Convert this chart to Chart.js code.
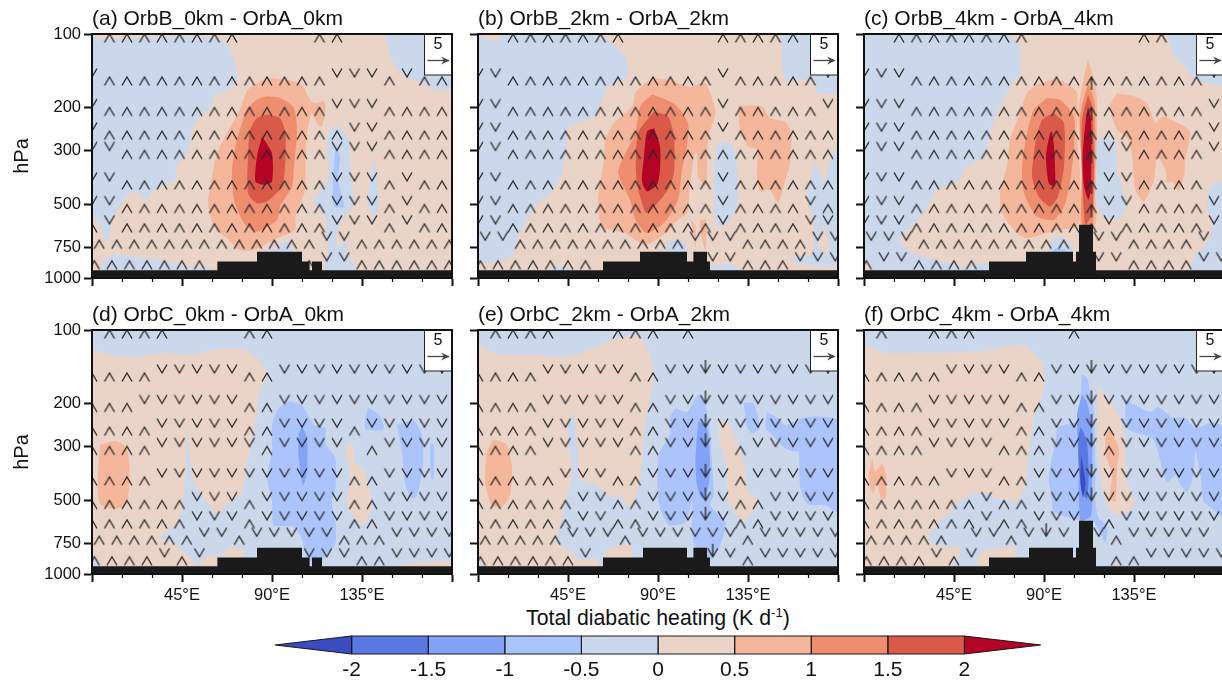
<!DOCTYPE html>
<html><head><meta charset="utf-8">
<script src="https://cdn.jsdelivr.net/npm/chart.js@4/dist/chart.umd.js"></script>
<style>
html,body{margin:0;padding:0;background:#fff;width:1222px;height:682px;overflow:hidden;position:relative}
canvas{position:absolute}
#cbt{position:absolute;left:526px;top:606px;font:21.3px "Liberation Sans",Arial,sans-serif;color:#111;white-space:nowrap}
#cbt sup{font-size:13px;line-height:0}
</style></head><body>
<div id="cbt">Total diabatic heating (K d<sup>-1</sup>)</div>
<script>
// colour levels
const cbBounds=[-2.5,-2,-1.5,-1,-0.5,0,0.5,1,1.5,2,2.5];
const cbColors=['#3b4cc0','#5a78e4','#82a3f8','#abc5fc','#cbd8ec','#ead4c8','#f5b79c','#ef8e6f','#da5a4a','#b40426'];
const cbLabels=[-2,-1.5,-1,-0.5,0,0.5,1,1.5,2];
const B4=0,B3=1,B2=2,B1=3,B0=4,R0=5,R1=6,R2=7,R3=8,R4=9;
const pressureTicks=[100,200,300,500,750,1000];
const lonMajor=[0,45,90,135,180];
const lonMinor=[15,30,60,75,105,120,150,165];
const titles=['(a) OrbB_0km - OrbA_0km','(b) OrbB_2km - OrbA_2km','(c) OrbB_4km - OrbA_4km','(d) OrbC_0km - OrbA_0km','(e) OrbC_2km - OrbA_2km','(f) OrbC_4km - OrbA_4km'];
const fullDomain=[[0,100],[180,100],[180,1000],[0,1000]];

// wind grid
const windLevels=[100,150,200,250,300,400,500,600,700,850,850];
const lonsMain=[0,8.75,17.5,26.25,35,43.75,52.5,61.25,70,78.75,87.5,96.25,105,113.75,122.5,131.25,140,148.75,157.5,166.25,175];
const lonsLow=[3.6,12.35,21.1,29.85,38.6,47.35,56.1,64.85,73.6,82.35,91.1,99.85,108.6,117.35,126.1,134.85,143.6,152.35,161.1,169.85,178.6];
const lonsBase=[1.2,9.95,18.7,27.45,36.2,44.95,53.7];
const windA=['.^^^^^^^^....^^......','v^^^^^^^^^^^^^vvv^v^^','v^^^^^^^^^^^^^vvv^^^^','v^^^^^^^^^^^^^^vv^^^^','vv^^^^^^^^^^^^vvv^^^^','vv^^^^^^^^^^^^vvv^v^^','vv^^^^^^^^^^^^vvv^v^^','^v^^^^^^^^^^^^vvv^v^^','^^^^^^^^^^^^^vv^^^^^^','^^^^^^^','............^vv^^^^^^'];
const windB=['..^^^^^^^.....^^^^^..','vv^^^^^^^^^^^^v^^^^^v','vv^^^^^^^^^^^^v^^^^^v','vv^^^^^^^^^^^^v^^^^^^','vv^^^^^^^^^^^^^^^^^^^','vv^^^^^^^^^^^^v^^^^^^','vv^^^^^^^^^^^^v^^^^v^','vv^^^^^^^^^^^^v^^^^vv','vv^^^^^^^^^^vvv^^^^vv','^^^^^^^','.............vv^^^vvv'];
const windC=['..^^^^^^^^......^^...','vvv^^^^^^^^^^U^^^^^^v','vvv^^^^^^^^^^U^^^^^^v','vvv^^^^^^^^^^U^^^^^^v','vvv^^^^^^^^^^Uvv^^^^v','vvv^^^^^^^^^^Uvv^^^^.','vvv^^^^^^^^^^Uvv^^^^v','vvv^^^^^^^^^^^v^^^^^v','vvv^^^^^^^^^.vv^^^^v.','^vv^^^^','.............vv^^^^vv'];
const windD=['.^^^^....^^..........','^^^^vvvvv^^vvvvvvvvvv','^^^vvvvvv^^vvvvvvvvvv','^^^^vvvvv^^vvvv^vvvvv','^^^^vvvvvv^vvvv.^vvvv','^^^^vvvvvvvvvvv^^vvvv','^^^^^^vvv^vvvvv^^vvvv','^^^^^^vvv^vvvvv^^vvvv','^^^^^^vv^vvvvv^^^vvvv','^^^^v^v','............vvv^^vvvv'];
const windE=['.^^^^...^^^.^........','^^^^vvvvv^^vvDvvvvvvv','^^^^vvvvv^^vvDvvvvvvv','^^^^vvvvv^^vvDvvvvvvv','^^^^vvvvv^^vvD.^vvvvv','^^^^^vvv^^vvvDv^vvvvv','^^^^^^vv^^vvvDv^^vvvv','^^^^^^vv^^vvvDv^^vvvv','^^^^^vvv^vvvvvv^vvvvv','^^^^^^v','.............Dv^vvvvv'];
const windF=['.^..^^^.....^........','^^^^^vvvv^^vvDvvvvvvv','^^^^vvvvv^^vvDvvvvvvv','^^^^vvvvv^^vvD^vvvvvv','^^^^vvvv^^^vvD^vvvvvv','^^^^^vvv^^vvvDvvvvvvv','^^^^^^^v^^vvvDvvvvvvv','^^^^^^^v^^vvv.^vvvvvv','^^^^^.vv^vDv.v^vvvvv.','^^^^v^v','..............^^vvvvv'];

// terrain
const terrainA=[[0,1000],[0,930],[62.7,930],[62.7,855],[82.5,855],[82.5,780],[105,780],[105,855],[108.8,855],[108.8,930],[110,930],[110,855],[115,855],[115,930],[180,930],[180,1000]];
const terrainB=[[0,1000],[0,930],[62.5,930],[62.5,855],[81,855],[81,780],[104.5,780],[104.5,855],[107.7,855],[107.7,780],[114.5,780],[114.5,855],[116,855],[116,930],[180,930],[180,1000]];
const terrainC=[[0,1000],[0,930],[62.5,930],[62.5,855],[81,855],[81,780],[104.5,780],[104.5,855],[106,855],[106,780],[107.5,780],[107.5,605],[114.5,605],[114.5,780],[116,780],[116,930],[180,930],[180,1000]];
const terrainE=[[0,1000],[0,930],[62.5,930],[62.5,855],[82.5,855],[82.5,780],[104.5,780],[104.5,855],[107.7,855],[107.7,780],[114.5,780],[114.5,855],[116,855],[116,930],[180,930],[180,1000]];
const terrainF=[[0,1000],[0,930],[62.5,930],[62.5,855],[82.5,855],[82.5,780],[104.5,780],[104.5,855],[106,855],[106,780],[107.5,780],[107.5,605],[114.5,605],[114.5,780],[116,780],[116,930],[180,930],[180,1000]];

// panel a contours [lon, hPa]
const a_tan=[[0,100],[146,100],[149,123],[156,149],[164,157],[171,169],[180,172],[180,1000],[0,1000],[0,560],[4,616],[6.7,708],[9,676],[10,578],[16.7,470],[21.7,441],[27.5,478],[31,435],[41.7,396],[41.7,349],[46.7,317],[49,289],[50,247],[54,218],[60,198],[61,180],[66,172],[72.5,154],[72.5,143],[69,116],[64,105],[54,103],[21,104],[4,105]];
const a_b1=[[4,930],[6,844],[12.5,800],[21,818],[34,844],[47.5,900],[57.5,900],[61,930]];
const a_b2=[[122.5,236],[127.5,263],[129,317],[130,422],[131,494],[127.5,543],[122.5,635],[123,744],[127.5,698],[127.5,793],[132.5,929],[116.7,929],[118,768],[117.5,655],[116.7,560],[111,494],[114,435],[118,396],[117.5,308],[118,255]];
const a_b3=[[141,327],[142.5,396],[143,509],[141,560],[138,509],[139,383]];
const a_b4=[[82.5,780],[92.5,753],[96,698],[101,780]];
const a_m1=[[121.7,289],[124,317],[123,396],[125,463],[126,509],[121,509],[120.5,396]];
const a_r1=[[87.5,151],[97.5,154],[105,161],[108,180],[111,192],[116,189],[116.7,201],[115,239],[112.5,232],[110,211],[107.5,255],[106.7,349],[106.7,435],[101.7,560],[101.7,635],[92.5,687],[81,768],[74,768],[67.5,687],[61,616],[58,494],[61,349],[62.5,308],[67.5,255],[74,204],[78,169]];
const a_r2=[[87.5,180],[94,183],[101,201],[102.5,255],[101,349],[100,422],[94,509],[92.5,578],[82.5,645],[76,596],[71,478],[70,360],[72.5,271],[77.5,204],[82.5,186]];
const a_r3=[[87.5,214],[94,221],[96.7,255],[96.7,327],[95,422],[87.5,486],[82.5,494],[78,449],[78,317],[79,247],[82.5,221]];
const a_r4=[[85,263],[90,308],[90,402],[86,415],[81.7,402],[82.5,317]];

// panel b
const b_tan0=[[1,100],[3,104],[10,105],[12,100]];
const b_tan=[[60,100],[150,100],[152,123],[153.7,154],[167,154],[170,174],[180,180],[180,1000],[0,1000],[0,855],[2,844],[3.7,872],[15,830],[18.7,768],[19.5,698],[24.5,578],[29.5,494],[36,449],[42,371],[44.5,289],[45,243],[58,218],[62,186],[65,164],[75,149],[73,123],[67,109]];
const b_h1=[[121,276],[127,284],[129.5,349],[129.5,509],[125,596],[120,616],[118,543],[118,371],[118.7,298]];
const b_h2=[[180,280],[175,349],[173,402],[168.7,338],[164.5,478],[168,578],[167,793],[158,818],[158.7,872],[180,872]];
const b_t2=[[170,744],[173,596],[175,698],[175,818]];
const b_h3=[[93.7,780],[95,708],[102,698],[105,780]];
const b_h4=[[116,930],[116,900],[125,872],[132,930]];
const b_h5=[[35,930],[40,900],[48.7,930]];
const b_r1=[[87,151],[95,154],[102,161],[107,164],[113.7,159],[116,174],[118.7,208],[115,271],[114.5,371],[113.7,422],[110,383],[109.5,308],[108,317],[106,422],[104.5,543],[100,578],[93.7,655],[83.7,733],[73.7,655],[62,616],[60,478],[63,327],[63.7,271],[68,232],[77,198],[78.7,174]];
const b_s1=[[106,570],[108.7,616],[108.7,780],[108,655]];
const b_s2=[[111,578],[114,578],[113.7,768],[111,635]];
const b_r2=[[87,177],[92,183],[98.7,195],[105,232],[104.5,289],[102,360],[100,478],[93.7,587],[84.5,655],[78.7,578],[76,478],[70,371],[73.7,308],[78.7,255],[81,198]];
const b_r3=[[88,208],[95,218],[98,263],[98,371],[95,435],[84.5,543],[81,463],[79,371],[80,255]];
const b_r4=[[88,243],[91,289],[91,360],[89.5,415],[84.5,442],[82,402],[83,317],[84.5,251]];
const b_e1=[[130,197],[142,198],[146,221],[153.7,229],[156.7,255],[156,338],[153.7,396],[150,494],[146,435],[141,442],[139.5,383],[139.5,298],[135,289],[131,247]];

// panel c
const c_tan=[[71.5,100],[150,100],[155,123],[160,136],[165.7,154],[175,161],[180,165],[180,396],[173,422],[171.5,509],[174,616],[171.5,721],[165,818],[163,929],[163,1000],[62,1000],[62,872],[50,900],[43,872],[25,793],[18,698],[30,543],[36.5,435],[48,396],[50,360],[60,317],[63,255],[66.5,211],[73,164],[78,145],[77,110]];
const c_tan2=[[0,844],[3,872],[4,930],[0,930]];
const c_h1=[[122,259],[125.7,289],[126.5,371],[131.5,509],[126.5,578],[120,560],[115.7,478],[116.5,371],[115.7,280]];
const c_h2=[[91.5,780],[95,687],[100,687],[105.7,780]];
const c_h3=[[94,780],[95.7,753],[100,768],[101.5,780]];
const c_r1=[[86.5,161],[95,154],[101.5,159],[106.5,174],[106.5,255],[108,371],[108,509],[106.5,616],[96.5,635],[81.5,687],[76.5,655],[69,543],[68,449],[71.5,349],[73,271],[78,211],[81.5,174]];
const c_t1=[[112,127],[115,154],[116.5,186],[116.5,255],[115.7,478],[115.7,605],[108,605],[109,349],[107,218],[109,164]];
const c_r2=[[91.5,183],[98,186],[105,218],[105,289],[103,408],[100,509],[95,578],[86.5,560],[80,449],[79,349],[81.5,255],[85,204]];
const c_t2=[[112,159],[115,186],[115.7,255],[115,509],[114,605],[109,605],[109,371],[108,218]];
const c_r3=[[95,211],[100,232],[100,349],[97,463],[93,509],[87.3,463],[84,383],[85.7,280],[89,225]];
const c_t3=[[112,177],[114,198],[115,349],[114,543],[110.7,605],[109,371],[109,225]];
const c_r4=[[94,251],[95,289],[95.7,396],[95,422],[92.3,408],[91,317],[93,255]];
const c_t4=[[112,198],[113.5,225],[113.5,422],[112.3,478],[110,422],[109.3,317],[110.7,232]];
const c_e1=[[126.5,175],[135,180],[141.5,192],[145.7,232],[149,218],[155.7,229],[163,251],[160.7,327],[160,383],[157.3,442],[154,402],[151.5,408],[150.7,360],[146.5,317],[145,396],[140,486],[135.7,435],[134,317],[132.3,271],[126.5,247],[123,198]];

// panel d
const d_tan=[[0,119],[9,126],[21,129],[36,124],[49,127],[62.5,120],[74,119],[81.7,129],[87.5,151],[83.3,184],[82.5,217],[79,306],[76.7,381],[75,460],[67.5,515],[62.5,567],[57.5,506],[52.5,446],[50,393],[48,278],[47.5,255],[46.7,393],[45.8,476],[43.3,612],[34,707],[41,750],[47.5,838],[52.5,925],[52,1000],[3,1000],[4,925],[1.7,838],[0,815]];
const d_t2=[[52.5,925],[56,866],[61.7,828],[62.7,855],[62.7,925]];
const d_t3=[[64,855],[69,775],[76,800],[75,855]];
const d_t4=[[152.5,1000],[152.5,935],[159,905],[180,890],[180,1000]];
const d_t5=[[129,287],[131,301],[131.7,353],[135.8,369],[138,433],[140,540],[135,632],[129,556],[127.5,491],[129,393],[126.7,306]];
const d_r1=[[4,296],[11.7,285],[17.5,306],[18.8,420],[16.7,523],[10.8,540],[4,515],[2.8,420]];
const d_b1=[[99,196],[105,204],[111,245],[116.7,253],[116.7,292],[121.7,335],[121.7,446],[120,506],[121.7,612],[121.7,750],[116.7,838],[114,895],[107.5,866],[105,716],[100.8,640],[90.8,630],[90,506],[87.5,404],[90,315],[90,245],[93.3,209]];
const d_b2=[[105,247],[107.5,278],[107.5,381],[105.5,433],[103.3,335],[103.3,270]];
const d_b3=[[138,208],[144,224],[145.8,255],[136.7,255],[136.7,230]];
const d_b4=[[152.5,245],[160.8,235],[165,270],[165.5,358],[162.5,476],[160,491],[156.7,433],[155,315]];
const d_b5=[[169,292],[171,296],[170.8,406],[169.5,406]];

// panel e
const e_tan=[[0,114],[10,126],[27,126],[43.7,129],[57,120],[67,110],[80,105],[85.3,122],[87.8,157],[84.5,217],[82,325],[81,406],[77.8,515],[75.3,531],[71,476],[67,483],[58.7,433],[51,404],[49.5,287],[47.8,217],[44.5,253],[47,393],[42.8,540],[40.3,673],[38.7,742],[47,815],[51,880],[59.5,866],[60.3,925],[60,1000],[3,1000],[2.8,925],[0,866]];
const e_t2=[[62.5,866],[65.3,787],[76,757],[77,855]];
const e_r1=[[7.8,280],[14.5,296],[17,369],[16,476],[12,533],[7,523],[3.7,433],[4.5,315]];
const e_t3=[[120.3,237],[125.3,241],[132,325],[135.3,460],[140.3,506],[132.8,612],[127,538],[124.5,476],[124.5,367],[121,296]];
const e_b1=[[98.7,209],[104.5,217],[110.3,184],[114.5,214],[117,346],[117.8,476],[116,523],[123.7,612],[122.8,695],[117,866],[108.7,775],[107,652],[107,506],[103.7,612],[95.3,630],[90.3,506],[90.3,325],[96,268],[96,230]];
const e_b2=[[110.3,235],[114.5,253],[116,335],[115.3,433],[112,491],[109.5,433],[108.7,346],[109.5,268]];
const e_b3=[[132.8,198],[137.8,200],[141,253],[137,265],[134.5,250]];
const e_b4=[[144.5,217],[150.3,230],[153.7,245],[162,230],[170.3,226],[180,235],[180,556],[173.7,523],[164.5,515],[161,433],[160.3,315],[157.8,315],[153.7,306],[147,268],[143.7,253]];

// panel f
const f_tan=[[0,115],[10,124],[26.5,124],[43,124],[60,122],[75,115],[81.5,117],[88,134],[90.7,162],[85,230],[82,346],[80.7,433],[76.5,500],[66.5,491],[60,460],[50,491],[43,556],[35,652],[32,719],[36.5,764],[48,778],[47.3,855],[43,925],[43,1000],[0,1000]];
const f_t2=[[56.5,866],[60,800],[75.7,775],[75.7,860],[62.5,860],[62.5,925],[56.5,925]];
const f_r1=[[4,335],[5.7,381],[9,353],[11,393],[10.7,491],[8.5,491],[6.5,420],[4.5,470],[2.3,404]];
const f_t3=[[117.3,169],[122.3,196],[126.5,217],[130.7,278],[131.5,420],[135.7,506],[132.3,556],[124.8,567],[120.7,506],[117.3,346],[116.5,217]];
const f_r2=[[123,250],[127.3,306],[126.5,369],[125.7,506],[123,491],[124,393],[121,325],[120.7,278]];
const f_t4=[[124,925],[125.7,905],[129,925]];
const f_b1=[[109,152],[111.5,157],[114.8,209],[115.7,346],[115.7,506],[117.3,592],[121.5,630],[120.7,742],[115,612],[107.5,602],[94.8,556],[94,491],[92.3,404],[95.7,287],[97.3,250],[106.5,235]];
const f_b2=[[109,184],[111.5,198],[114,253],[114,476],[113.5,578],[108.2,605],[107.3,346],[106.5,224]];
const f_b3=[[108.5,250],[111.5,287],[112.3,393],[111.5,491],[109,460],[107.3,346],[107.3,268]];
const f_b4=[[108.5,325],[110.7,420],[109.5,486],[108.2,420]];
const f_b5=[[130.7,193],[143,217],[147.3,207],[154,228],[160,228],[165.7,253],[168.2,250],[173.2,240],[180,250],[180,590],[174,538],[169.8,506],[168.2,393],[165.7,315],[164.8,393],[161.5,460],[158,428],[155.7,393],[151.5,420],[146.5,306],[144,278],[131.5,253]];

const layers=[
 [[a_tan,R0],[a_b1,B0],[a_b2,B0],[a_b3,B0],[a_b4,B0],[a_m1,B1],[a_r1,R1],[a_r2,R2],[a_r3,R3],[a_r4,R4]],
 [[b_tan0,R0],[b_tan,R0],[b_h1,B0],[b_h2,B0],[b_t2,R0],[b_h3,B0],[b_h4,B0],[b_h5,B0],[b_r1,R1],[b_s1,R1],[b_s2,R1],[b_e1,R1],[b_r2,R2],[b_r3,R3],[b_r4,R4]],
 [[c_tan,R0],[c_tan2,R0],[c_h1,B0],[c_h2,B0],[c_h3,B1],[c_r1,R1],[c_t1,R1],[c_e1,R1],[c_r2,R2],[c_t2,R2],[c_r3,R3],[c_t3,R3],[c_r4,R4],[c_t4,R4]],
 [[d_tan,R0],[d_t2,R0],[d_t3,R0],[d_t4,R0],[d_t5,R0],[d_r1,R1],[d_b1,B1],[d_b2,B2],[d_b3,B1],[d_b4,B1],[d_b5,B1]],
 [[e_tan,R0],[e_t2,R0],[e_t3,R0],[e_r1,R1],[e_b1,B1],[e_b2,B2],[e_b3,B1],[e_b4,B1]],
 [[f_tan,R0],[f_t2,R0],[f_t3,R0],[f_t4,R0],[f_r1,R1],[f_r2,R1],[f_b1,B1],[f_b2,B2],[f_b3,B3],[f_b4,B4],[f_b5,B1]]
];
const terrains=[terrainA,terrainB,terrainC,terrainA,terrainE,terrainF];
const winds=[windA,windB,windC,windD,windE,windF];
const rowLons=[lonsMain,lonsMain,lonsMain,lonsMain,lonsMain,lonsMain,lonsMain,lonsMain,lonsLow,lonsBase,lonsLow];

const FONT='"Liberation Sans", Arial, sans-serif', INK='#111';

function sprite(up,shaft){
  const c=document.createElement('canvas');c.width=14;c.height=64;
  const g=c.getContext('2d');g.strokeStyle='#2a2a2a';g.lineWidth=1.35;
  const s=up?1:-1,cx=7,cy=32;
  g.beginPath();g.moveTo(cx-5,cy+s*8.5);g.lineTo(cx,cy);g.lineTo(cx+5,cy+s*8.5);
  if(shaft){g.moveTo(cx,cy);g.lineTo(cx,cy+s*13);}
  g.stroke();return c;
}
const SPR={'^':sprite(true,false),'v':sprite(false,false),'U':sprite(true,true),'D':sprite(false,true)};

function poly(pts,color,extra){
  return Object.assign({type:'scatter',showLine:true,data:pts.concat([pts[0]]).map(p=>({x:p[0],y:p[1]})),
    fill:'shape',backgroundColor:color,borderColor:color,borderWidth:0,pointRadius:0,tension:0},extra||{});
}
function windSet(rows,ch){
  const pts=[];
  rows.forEach((r,i)=>{for(let k=0;k<r.length;k++) if(r[k]===ch) pts.push({x:rowLons[i][k],y:windLevels[i]});});
  return {type:'scatter',showLine:false,data:pts,pointStyle:SPR[ch],pointRadius:7,pointHoverRadius:7};
}
const keyBox={id:'keyBox',afterDatasetsDraw(ch){
  const a=ch.chartArea,g=ch.ctx,R=a.right,T=a.top;
  g.save();g.fillStyle='#fff';g.strokeStyle='#222';g.lineWidth=1;
  g.fillRect(R-27.5,T,27.5,41);g.strokeRect(R-27.5,T,27.5,41);
  g.fillStyle=INK;g.font='16px '+FONT;g.textAlign='center';g.textBaseline='middle';
  g.fillText('5',R-14,T+10.5);
  g.strokeStyle='#444';g.lineWidth=1.3;g.beginPath();g.moveTo(R-24.5,T+26.5);g.lineTo(R-3,T+26.5);g.stroke();
  g.fillStyle='#444';g.beginPath();g.moveTo(R-2.5,T+26.5);g.lineTo(R-11,T+22.5);g.lineTo(R-8,T+26.5);g.lineTo(R-11,T+30.5);g.closePath();g.fill();
  g.restore();
}};

function makePanel(i){
  const cv=document.createElement('canvas');
  const col=i%3,row=i<3?0:1;
  cv.width=460;cv.height=320;
  cv.style.left=(col===0?0:col===1?386:772)+'px';
  cv.style.top=(row===0?0:296)+'px';
  document.body.appendChild(cv);
  const ds=[poly(fullDomain,cbColors[B0])];
  layers[i].forEach(l=>ds.push(poly(l[0],cbColors[l[1]],{tension:0.22})));
  ['^','v','U','D'].forEach(c=>ds.push(windSet(winds[i],c)));
  ds.push(poly(terrains[i],'#1a1a1a'));
  ds.reverse();
  const bottom=row===1, left=col===0;
  new Chart(cv,{data:{datasets:ds},plugins:[keyBox],options:{
    responsive:false,animation:false,events:[],
    layout:{padding:0},
    plugins:{legend:{display:false},tooltip:{enabled:false},title:{display:false}},
    scales:{
      x:{type:'linear',position:'bottom',min:0,max:180,weight:2,
        afterFit(s){s.height=42;},
        afterBuildTicks(s){s.ticks=lonMajor.map(v=>({value:v}));},
        border:{color:INK,width:2,z:1},
        grid:{drawOnChartArea:false,tickLength:8,tickColor:INK,tickWidth:2,z:1},
        ticks:{z:1,autoSkip:false,maxRotation:0,padding:4,color:INK,font:{family:FONT,size:16.5},
          callback(v){return (bottom&&v>0&&v<180)?v+'°E':'';}}},
      xm:{type:'linear',position:'bottom',min:0,max:180,weight:1,
        afterFit(s){s.height=0;},
        afterBuildTicks(s){s.ticks=lonMinor.map(v=>({value:v}));},
        border:{display:false},
        grid:{drawOnChartArea:false,tickLength:4,tickColor:INK,tickWidth:1.2,z:1},
        ticks:{z:1,autoSkip:false,maxRotation:0,color:'rgba(0,0,0,0)',font:{size:1},callback(){return '';}}},
      xt:{type:'linear',position:'top',min:0,max:180,
        afterFit(s){s.height=34;},
        border:{color:INK,width:2,z:1},
        grid:{display:false},
        ticks:{display:false},
        title:{display:true,text:titles[i],align:'start',color:INK,padding:{top:7,bottom:0},font:{family:FONT,size:21}}},
      y:{type:'logarithmic',position:'left',min:100,max:1000,reverse:true,
        afterFit(s){s.width=92;},
        afterBuildTicks(s){s.ticks=pressureTicks.map(v=>({value:v}));},
        border:{color:INK,width:2,z:1},
        grid:{drawOnChartArea:false,tickLength:8,tickColor:INK,tickWidth:2,z:1},
        title:{display:left,text:'hPa',color:INK,padding:{top:10},font:{family:FONT,size:20}},
        ticks:{z:1,autoSkip:false,padding:3,color:INK,font:{family:FONT,size:16.5},
          callback(v){return left?String(v):'';}}},
      yr:{type:'linear',position:'right',min:0,max:1,
        afterFit(s){s.width=8;},
        border:{color:INK,width:2,z:1},
        grid:{display:false},ticks:{display:false}}
    }}});
}
for(let i=0;i<6;i++) makePanel(i);

// colour bar
(function(){
  const cv=document.createElement('canvas');cv.width=866;cv.height=62;
  cv.style.left='225px';cv.style.top='620px';document.body.appendChild(cv);
  const ds=[];
  for(let i=0;i<cbColors.length;i++){
    const a=cbBounds[i],b=cbBounds[i+1];
    const pts=i===0?[[a,0.5],[b,0],[b,1]]:i===cbColors.length-1?[[a,0],[b,0.5],[a,1]]:[[a,0],[b,0],[b,1],[a,1]];
    ds.push(poly(pts,cbColors[i],{borderColor:'#1a1a1a',borderWidth:1.2,borderJoinStyle:'bevel',clip:false}));
  }
  new Chart(cv,{data:{datasets:ds},options:{
    responsive:false,animation:false,events:[],
    layout:{padding:{left:50,right:50,top:16,bottom:0}},
    plugins:{legend:{display:false},tooltip:{enabled:false}},
    scales:{
      x:{type:'linear',min:-2.5,max:2.5,
        afterFit(s){s.height=28;},
        afterBuildTicks(s){s.ticks=cbLabels.map(v=>({value:v}));},
        border:{display:false},grid:{display:false},
        ticks:{autoSkip:false,maxRotation:0,padding:-4,color:INK,font:{family:FONT,size:21},callback(v){return String(v);}}},
      y:{type:'linear',min:0,max:1,display:false}
    }}});
})();
</script>
</body></html>
